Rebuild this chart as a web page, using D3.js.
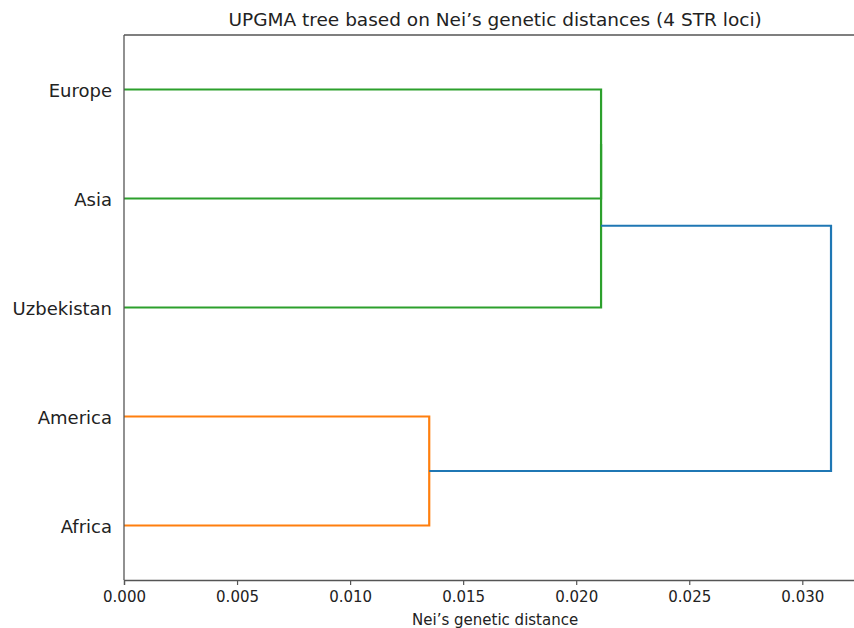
<!DOCTYPE html>
<html>
<head>
<meta charset="utf-8">
<script src="https://cdn.jsdelivr.net/npm/d3@7"></script>
<style>
  body { margin: 0; background: #fff; }
  svg { display: block; }
  text { font-family: "DejaVu Sans", sans-serif; fill: #222; }
</style>
</head>
<body>
<svg id="chart" width="854" height="628"></svg>
<script>
// leaves, bottom to top (dendrogram order)
var leafNames = ["Africa", "America", "Uzbekistan", "Asia", "Europe"];

// linkage: node ids 0-4 are leaves, each merge makes a new node 5, 6, ...
var linkA = [1, 4, 6, 5];
var linkB = [0, 3, 2, 7];
var linkDist = [0.0135, 0.0211, 0.0211, 0.03127];
var linkColor = ["#ff7f0e", "#2ca02c", "#2ca02c", "#1f77b4"];

var xTicks = [0, 0.005, 0.010, 0.015, 0.020, 0.025, 0.030];
var xMax = 0.03283;

var svg = d3.select("#chart");

var plotLeft = 124, plotTop = 35, plotBottom = 580;
var x = d3.scaleLinear().domain([0, xMax]).range([plotLeft, plotLeft + xMax * 22610]);
var y = d3.scaleLinear().domain([0, leafNames.length * 10]).range([plotBottom, plotTop]);

// node positions (dendrogram coords)
var nodeY = leafNames.map(function (d, i) { return 5 + i * 10; });
var nodeX = leafNames.map(function () { return 0; });
linkA.forEach(function (a, i) {
    var b = linkB[i];
    nodeY.push((nodeY[a] + nodeY[b]) / 2);
    nodeX.push(linkDist[i]);
});

var g = svg.append("g");

// links as U-shapes
g.selectAll("path.link")
    .data(linkA.map(function (a, i) { return i; }))
    .enter().append("path")
    .attr("class", "link")
    .attr("fill", "none")
    .attr("stroke-width", 2.2)
    .attr("stroke", function (i) { return linkColor[i]; })
    .attr("d", function (i) {
        var a = linkA[i], b = linkB[i], d = linkDist[i];
        return "M" + x(nodeX[a]) + "," + y(nodeY[a]) +
            "L" + x(d) + "," + y(nodeY[a]) +
            "L" + x(d) + "," + y(nodeY[b]) +
            "L" + x(nodeX[b]) + "," + y(nodeY[b]);
    });

// spines
var spine = "#555";
g.append("line").attr("x1", plotLeft).attr("x2", plotLeft).attr("y1", plotTop).attr("y2", plotBottom)
    .attr("stroke", spine).attr("stroke-width", 1.3);
g.append("line").attr("x1", plotLeft).attr("x2", x(xMax)).attr("y1", plotTop).attr("y2", plotTop)
    .attr("stroke", spine).attr("stroke-width", 1.3);
g.append("line").attr("x1", x(xMax)).attr("x2", x(xMax)).attr("y1", plotTop).attr("y2", plotBottom)
    .attr("stroke", spine).attr("stroke-width", 1.3);

// x axis
var xAxis = d3.axisBottom(x)
    .tickValues(xTicks)
    .tickFormat(d3.format(".3f"))
    .tickSize(5)
    .tickPadding(6);
var ax = g.append("g").attr("transform", "translate(0," + plotBottom + ")").call(xAxis);
ax.select(".domain").attr("stroke", spine).attr("stroke-width", 1.3);
ax.selectAll(".tick line").attr("stroke", spine).attr("stroke-width", 1.2);
ax.selectAll(".tick text")
    .attr("font-family", "DejaVu Sans")
    .attr("font-size", 15)
    .attr("fill", "#222");

// leaf labels
g.selectAll("text.leaf")
    .data(leafNames)
    .enter().append("text")
    .attr("class", "leaf")
    .attr("x", plotLeft - 12)
    .attr("y", function (d, i) { return y(nodeY[i]) + 1; })
    .attr("dy", "0.35em")
    .attr("text-anchor", "end")
    .attr("font-size", 18)
    .text(function (d) { return d; });

var cx = (plotLeft + x(xMax)) / 2;

svg.append("text")
    .attr("x", cx).attr("y", 26)
    .attr("text-anchor", "middle")
    .attr("font-size", 18.5)
    .text("UPGMA tree based on Nei\u2019s genetic distances (4 STR loci)");

svg.append("text")
    .attr("x", cx).attr("y", 625)
    .attr("text-anchor", "middle")
    .attr("font-size", 15)
    .text("Nei\u2019s genetic distance");
</script>
</body>
</html>
